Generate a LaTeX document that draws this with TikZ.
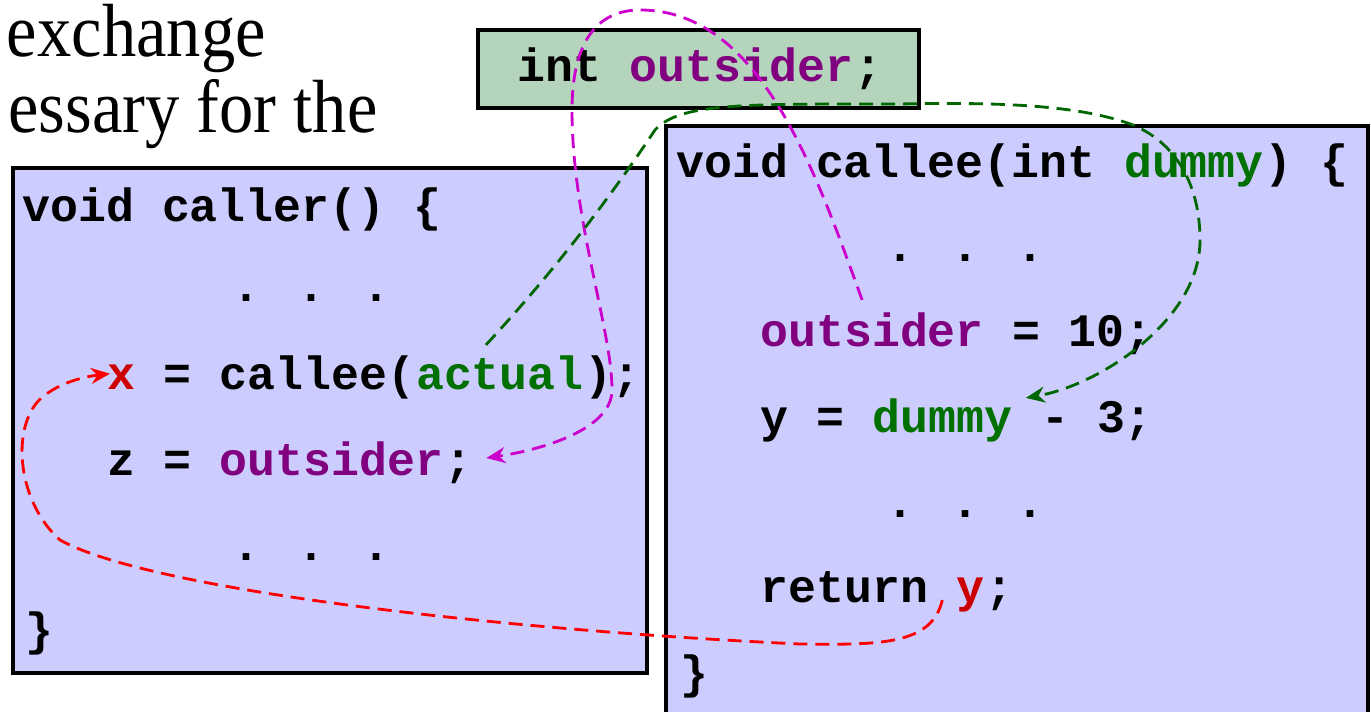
\documentclass[tikz,border=0pt]{standalone}
\usepackage{fontspec}
\usepackage{graphicx}
\usetikzlibrary{arrows.meta}
\newfontfamily\codefont{Liberation Mono}
\newfontfamily\capfont{Liberation Serif}
\newcommand\csp{\phantom{x}}
\definecolor{boxblue}{RGB}{204,204,255}
\definecolor{boxgreen}{RGB}{180,212,188}
\definecolor{codepurple}{RGB}{128,0,128}
\definecolor{codegreen}{RGB}{0,112,0}
\definecolor{codered}{RGB}{204,0,0}
\definecolor{linkmagenta}{RGB}{204,0,204}
\definecolor{linkgreen}{RGB}{0,102,0}
\definecolor{linkred}{RGB}{255,0,0}
\begin{document}
\begin{tikzpicture}[x=0.02cm,y=-0.02cm,
  panel/.style={draw=black, line width=2pt, fill=boxblue},
  code/.style={font=\codefont\bfseries\fontsize{26.5}{30}\selectfont, inner sep=0pt, anchor=base west, text=black},
  nxt/.style={code, at={(#1.base east)}},
  captext/.style={font=\capfont\fontsize{39}{44}\selectfont, inner sep=0pt, anchor=base east},
  link/.style={line width=1.6pt, dash pattern=on 8pt off 4.5pt, -{Stealth[length=0.38cm,width=0.32cm]}},
]
\useasboundingbox (0,0) rectangle (1371,712);

% caption fragments
\node[captext] (cap1) at (266,57) {\scalebox{1}[1.1]{exchange}};
\node[captext] (cap2) at (378,133) {\scalebox{1}[1.1]{essary for the}};

% panels
\draw[panel] (13,168) rectangle (647,673);
\draw[panel] (666,126) rectangle (1368,730);
\draw[panel, fill=boxgreen] (478,30) rectangle (919,108);

% global declaration
\node[code] (ga) at (517,82) {int\csp};
\node[nxt=ga, text=codepurple] (gout) {outsider};
\node[nxt=gout] (gb) {;};

% caller
\node[code] (l1) at (22,222) {void caller() \{};
\node[code] (l2) at (232,302) {. . .};
\node[code, text=codered] (l3x) at (107,390) {x};
\node[nxt=l3x] (l3a) {\csp= callee(};
\node[nxt=l3a, text=codegreen] (l3act) {actual};
\node[nxt=l3act] (l3b) {);};
\node[code] (l4a) at (107,475) {z =\csp};
\node[nxt=l4a, text=codepurple] (l4out) {outsider};
\node[nxt=l4out] (l4b) {;};
\node[code] (l5) at (232,560) {. . .};
\node[code] (l6) at (25,645) {\}};

% callee
\node[code] (r1a) at (676,178) {void callee(int\csp};
\node[nxt=r1a, text=codegreen] (r1dum) {dummy};
\node[nxt=r1dum] (r1b) {) \{};
\node[code] (r2) at (886,262) {. . .};
\node[code, text=codepurple] (r3out) at (760,347) {outsider};
\node[nxt=r3out] (r3b) {\csp= 10;};
\node[code] (r4a) at (760,432) {y =\csp};
\node[nxt=r4a, text=codegreen] (r4dum) {dummy};
\node[nxt=r4dum] (r4b) {\csp- 3;};
\node[code] (r5) at (886,517) {. . .};
\node[code] (r6a) at (760,602) {return\csp};
\node[nxt=r6a, text=codered] (r6y) {y};
\node[nxt=r6y] (r6b) {;};
\node[code] (r7) at (680,688) {\}};

% connectors
\draw[link, draw=linkmagenta] ([xshift=-0.2cm,yshift=0.26cm]r3out.north)
  .. controls (815,170) and (760,10) .. (640,10)
  .. controls (595,10) and (572,45) .. (572,110)
  .. controls (572,220) and (612,330) .. (612,390)
  .. controls (612,430) and (540,450) .. ([xshift=0.28cm,yshift=0.34cm]l4b.base east);
\draw[link, draw=linkgreen] ([xshift=-0.28cm,yshift=0.22cm]l3act.north)
  .. controls (560,265) and (615,190) .. (655,130)
  .. controls (680,103) and (740,104) .. (900,104)
  .. controls (1000,102) and (1080,105) .. (1133,125)
  .. controls (1180,145) and (1200,190) .. (1200,240)
  .. controls (1200,320) and (1100,385) .. ([xshift=0.26cm]r4dum.north east);
\draw[link, draw=linkred] ([xshift=-0.28cm,yshift=0.04cm]r6y.base west)
  .. controls (932,645) and (880,645) .. (800,644)
  .. controls (500,630) and (150,590) .. (60,540)
  .. controls (15,500) and (10,420) .. (45,395)
  .. controls (65,380) and (90,376) .. ([xshift=0.06cm,yshift=0.08cm]l3x.west);
\end{tikzpicture}
\end{document}
